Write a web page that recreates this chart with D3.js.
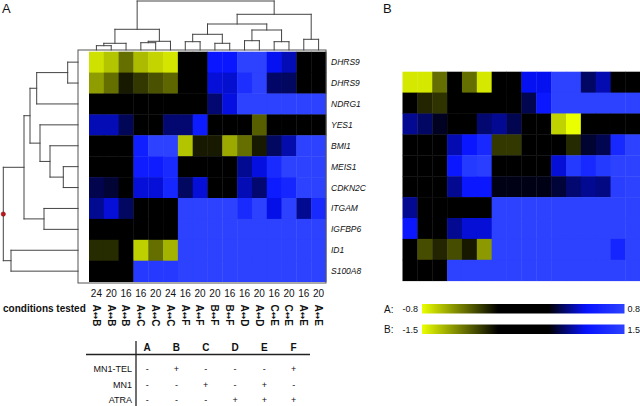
<!DOCTYPE html>
<html><head><meta charset="utf-8">
<script src="https://cdn.jsdelivr.net/npm/d3@7"></script>
<style>
body{margin:0;background:#fff}
svg{display:block}
text{font-family:"Liberation Sans",Arial,"DejaVu Sans",sans-serif;fill:#111}
</style>
</head><body><svg id="c" width="640" height="406"></svg>
<script>
// ---------------- DATA ----------------
const genes = ["DHRS9","DHRS9","NDRG1","YES1","BMI1","MEIS1","CDKN2C","ITGAM","IGFBP6","ID1","S100A8"];
const colNumbers = ["24","20","16","16","20","24","16","20","20","16","16","20","16","20","16","20"];
const conditionPairs = ["A\u2194B","A\u2194B","A\u2194B","A\u2194C","A\u2194C","A\u2194C","A\u2194F","A\u2194F","B\u2194F","B\u2194F","A\u2194D","A\u2194D","C\u2194E","C\u2194E","A\u2194E","A\u2194E"];

// panel A values (scale -0.8 .. 0.8)
const heatA = [
  [-0.73,-0.66,-0.46,-0.64,-0.70,-0.74, 0, 0, 0.52, 0.52, 0.8, 0.8, 0.48, 0.41, 0, 0],
  [-0.57,-0.46,-0.26,-0.33,-0.39,-0.44, 0, 0, 0.45, 0.44, 0.68, 0.8, 0.32, 0.31, 0, 0],
  [0, 0, 0, 0, 0, 0, 0, 0, 0.33, 0.46, 0.8, 0.8, 0.8, 0.8, 0.8, 0.8],
  [0.41, 0.41, 0.30, 0, 0, 0.33, 0.33, 0.55, 0, 0, 0, -0.42, 0, 0, 0, 0],
  [0, 0, 0, 0.58, 0.8, 0.8, -0.66, -0.26, -0.26, -0.60, -0.46, -0.26, 0.31, 0.40, 0.8, 0.8],
  [0, 0, 0, 0.56, 0.56, 0.65, 0, 0, 0, 0, 0.37, 0.46, 0.65, 0.8, 0.8, 0.8],
  [0.29, 0.26, 0, 0.45, 0.45, 0.62, 0.31, 0.45, 0, 0, 0.41, 0.33, 0.55, 0.62, 0.8, 0.8],
  [0.37, 0.45, 0.31, 0, 0, 0, 0.8, 0.8, 0.8, 0.8, 0.65, 0.8, 0.47, 0.8, 0.37, 0.65],
  [0, 0, 0, 0, 0, 0, 0.8, 0.8, 0.8, 0.8, 0.8, 0.8, 0.8, 0.8, 0.8, 0.8],
  [-0.30, -0.30, 0, -0.69, -0.46, -0.62, 0.8, 0.8, 0.8, 0.8, 0.8, 0.8, 0.8, 0.8, 0.8, 0.8],
  [0, 0, 0, 0.75, 0.75, 0.75, 0.8, 0.8, 0.8, 0.8, 0.8, 0.8, 0.8, 0.8, 0.8, 0.8]
];

// panel B values (scale -1.5 .. 1.5)
const heatB = [
  [-1.40,-1.40,-0.86, 0,-0.86,-1.40, 0, 0, 0.90, 0.90, 1.5, 1.5, 0.59, 0.76, 0, 0],
  [0,-0.54,-0.60, 0, 0, 0, 0, 0, 0.55, 1.00, 1.5, 1.5, 1.5, 1.5, 1.5, 1.5],
  [0.69, 0.59, 0.45, 0, 0, 0.62, 0.69, 0.55, 0, 0,-1.30,-1.50, 0, 0, 0, 0],
  [0, 0, 0, 0.76, 0.98, 1.20,-0.62,-0.62, 0, 0, 0,-0.56, 0.48, 0.55, 1.20, 1.5],
  [0, 0, 0, 1.00, 1.40, 1.45, 0, 0, 0, 0, 0.84, 1.40, 1.20, 1.40, 1.5, 1.5],
  [0, 0, 0, 0.69, 1.00, 1.00, 0.42, 0.42, 0.42, 0.42, 0.50, 0.62, 0.69, 0.66, 1.45, 1.5],
  [0.69, 0, 0, 0, 0, 0, 1.5, 1.5, 1.5, 1.5, 1.5, 1.5, 1.5, 1.5, 1.5, 1.5],
  [1.00, 0, 0, 0.69, 0.84, 0.84, 1.5, 1.5, 1.5, 1.5, 1.5, 1.5, 1.5, 1.5, 1.5, 1.5],
  [0,-0.71,-0.54,-0.71,-0.48,-1.05, 1.5, 1.5, 1.5, 1.5, 1.5, 1.5, 1.5, 1.5, 1.15, 1.5],
  [0, 0, 0, 1.5, 1.5, 1.5, 1.5, 1.5, 1.5, 1.5, 1.5, 1.5, 1.5, 1.5, 1.5, 1.5]
];

// hierarchical clustering merges (negative = leaf index, positive = earlier merge), height
const colMerges = [[-1,-2,4.3],[1,-3,6.7],[-4,-5,7.3],[3,-6,8.7],[2,4,20.7],[-7,-8,8.3],[-9,-10,6.7],[6,7,15.7],[-11,-12,9.3],[-13,-14,8.3],[9,10,20],[8,11,26],[-15,-16,10.7],[12,13,35.7],[5,14,49]];
const rowMerges = [[-1,-2,10.3],[1,-3,41.3],[-6,-7,14.7],[-5,3,28],[-4,4,38],[2,5,48],[-8,-9,34],[6,7,54],[-10,-11,67],[8,9,74.7]];
const rowCutMarker = 7.77; // position along rows of the red marker

const tableCols = ["A","B","C","D","E","F"];
const tableRows = ["MN1-TEL","MN1","ATRA"];
const tableValues = [["-","+","-","-","-","+"],["-","-","+","-","+","-"],["-","-","-","+","+","+"]];

const rangeA = [-0.8, 0.8];
const rangeB = [-1.5, 1.5];

// ---------------- DRAW ----------------
const svg = d3.select("#c");
const colorRange = ["#eaff00","#000000","#000000","#0612ff","#2c42ff"];
function makeColor(r){
  const m = r[1];
  return d3.scaleLinear().domain([-m, -m*0.25, m*0.25, m*0.62, m]).range(colorRange).clamp(true);
}
const colorA = makeColor(rangeA), colorB = makeColor(rangeB);

const cols = d3.range(16);
const xA = d3.scaleBand().domain(cols).range([89, 326]);
const yA = d3.scaleBand().domain(d3.range(genes.length)).range([51.7, 281.6]);
const xB = d3.scaleBand().domain(cols).range([402.5, 640.3]);
const yB = d3.scaleBand().domain(d3.range(heatB.length)).range([71.7, 280.7]);

function drawHeat(data, x, y, color){
  const g = svg.append("g");
  data.forEach((row, r) => {
    g.selectAll(null).data(row).join("rect")
      .attr("x", (d,i) => x(i)).attr("y", y(r))
      .attr("width", x.bandwidth()+0.4).attr("height", y.bandwidth()+0.4)
      .attr("fill", d => color(d));
  });
}
drawHeat(heatA, xA, yA, colorA);
drawHeat(heatB, xB, yB, colorB);

// frame of A
svg.append("rect").attr("x", 78).attr("y", 50).attr("width", 248).attr("height", 233)
  .attr("fill","none").attr("stroke","#555").attr("stroke-width",1);

// dendrograms
function dendroSegs(merges, leafPos){
  const nodes = [];
  const get = id => id < 0 ? {pos: leafPos(-id-1), h: 0} : nodes[id-1];
  const segs = [];
  merges.forEach(([a,b,h]) => {
    const A = get(a), B = get(b);
    segs.push([A.pos, A.h, A.pos, h]);
    segs.push([B.pos, B.h, B.pos, h]);
    segs.push([A.pos, h, B.pos, h]);
    nodes.push({pos:(A.pos+B.pos)/2, h});
  });
  return segs;
}
const hTop = d3.scaleLinear().domain([0, 50]).range([50, 0]);
const topSegs = dendroSegs(colMerges, i => xA(i) + xA.bandwidth()/2);
svg.append("g").selectAll("line").data(topSegs).join("line")
  .attr("x1", d => d[0]).attr("y1", d => hTop(d[1]))
  .attr("x2", d => d[2]).attr("y2", d => hTop(d[3]))
  .attr("stroke","#444").attr("stroke-width",1).attr("stroke-linecap","square");

const hLeft = d3.scaleLinear().domain([0, 75]).range([78, 3]);
const rowPos = d3.scaleLinear().domain([0, genes.length]).range([51.7, 281.6]);
const leftSegs = dendroSegs(rowMerges, i => yA(i) + yA.bandwidth()/2);
svg.append("g").selectAll("line").data(leftSegs).join("line")
  .attr("x1", d => hLeft(d[1])).attr("y1", d => d[0])
  .attr("x2", d => hLeft(d[3])).attr("y2", d => d[2])
  .attr("stroke","#444").attr("stroke-width",1).attr("stroke-linecap","square");
svg.append("circle").attr("cx", hLeft(74.7)).attr("cy", rowPos(rowCutMarker)).attr("r", 2.2)
  .attr("fill","#c0141c").attr("stroke","#7a0a0a").attr("stroke-width",0.5);

// gene labels
svg.append("g").selectAll("text").data(genes).join("text")
  .attr("x", 331).attr("y", (d,i) => yA(i) + yA.bandwidth()/2)
  .attr("dy","0.35em").attr("font-size", 8.5).attr("font-style","italic").text(d => d);

// column numbers
svg.append("g").selectAll("text").data(colNumbers).join("text")
  .attr("x", (d,i) => xA(i) + xA.bandwidth()/2).attr("y", 293)
  .attr("dy","0.35em").attr("text-anchor","middle").attr("font-size", 10).text(d => d);

svg.append("text").attr("x", 3).attr("y", 308).attr("dy","0.35em")
  .attr("font-size", 10).attr("font-weight","bold").text("conditions tested");

const condG = svg.append("g").selectAll("text").data(conditionPairs).join("text")
  .attr("transform", (d,i) => `translate(${xA(i) + xA.bandwidth()/2},304.5) rotate(90)`)
  .attr("dy","0.36em").attr("font-size", 10).attr("font-weight","bold");
condG.append("tspan").text(d => d.split("\u2194")[0]);
condG.append("tspan").attr("font-family","DejaVu Sans").attr("font-size", 9).text("\u2194");
condG.append("tspan").text(d => d.split("\u2194")[1]);

// table
const tx = d3.scaleBand().domain(tableCols).range([132.5, 308.3]);
const ty = d3.scaleBand().domain(tableRows).range([361, 408]);
svg.append("g").selectAll("text").data(tableCols).join("text")
  .attr("x", d => tx(d) + tx.bandwidth()/2).attr("y", 347).attr("dy","0.35em")
  .attr("text-anchor","middle").attr("font-size", 10).attr("font-weight","bold").text(d => d);
svg.append("line").attr("x1", 86).attr("x2", 310).attr("y1", 354.5).attr("y2", 354.5)
  .attr("stroke","#222").attr("stroke-width",1.3);
svg.append("line").attr("x1", 136).attr("x2", 136).attr("y1", 341).attr("y2", 406)
  .attr("stroke","#222").attr("stroke-width",1.3);
svg.append("g").selectAll("text").data(tableRows).join("text")
  .attr("x", 132).attr("y", d => ty(d) + ty.bandwidth()/2).attr("dy","0.35em")
  .attr("text-anchor","end").attr("font-size", 9).text(d => d);
tableValues.forEach((row, r) => {
  svg.append("g").selectAll("text").data(row).join("text")
    .attr("x", (d,i) => tx(tableCols[i]) + tx.bandwidth()/2)
    .attr("y", ty(tableRows[r]) + ty.bandwidth()/2).attr("dy","0.35em")
    .attr("text-anchor","middle").attr("font-size", 9).text(d => d);
});

// panel labels
svg.append("text").attr("x", 2).attr("y", 13).attr("font-size", 13).text("A");
svg.append("text").attr("x", 383).attr("y", 13).attr("font-size", 13).text("B");

// color bars
const defs = svg.append("defs");
function colorBar(id, label, range, color, y){
  const grad = defs.append("linearGradient").attr("id", id);
  d3.range(0, 1.0001, 0.025).forEach(t => {
    grad.append("stop").attr("offset", t).attr("stop-color", color(range[0] + t*(range[1]-range[0])));
  });
  const bx = d3.scaleLinear().domain(range).range([422, 624.5]);
  svg.append("rect").attr("x", bx(range[0])).attr("y", y).attr("width", bx(range[1]) - bx(range[0]))
    .attr("height", 9.5).attr("fill", `url(#${id})`);
  svg.append("text").attr("x", 384).attr("y", y + 5).attr("dy","0.35em").attr("font-size", 10).text(label);
  svg.append("text").attr("x", bx(range[0]) - 4).attr("y", y + 5).attr("dy","0.35em")
    .attr("text-anchor","end").attr("font-size", 9).text(range[0]);
  svg.append("text").attr("x", bx(range[1]) + 3).attr("y", y + 5).attr("dy","0.35em")
    .attr("font-size", 9).text(range[1]);
}
colorBar("gA", "A:", rangeA, colorA, 304);
colorBar("gB", "B:", rangeB, colorB, 324.5);
</script>
</body></html>
